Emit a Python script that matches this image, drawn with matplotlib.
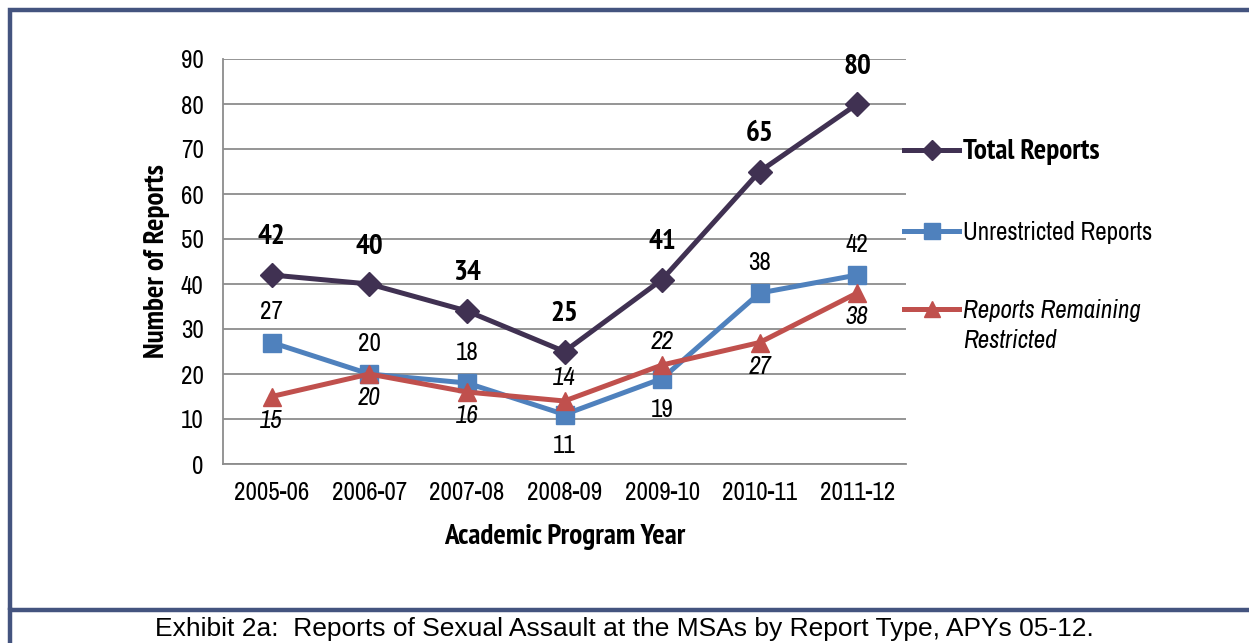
import matplotlib
matplotlib.use('Agg')
import matplotlib.pyplot as plt
from matplotlib.lines import Line2D
from matplotlib.patches import Rectangle

years = ['2005-06', '2006-07', '2007-08', '2008-09', '2009-10', '2010-11', '2011-12']
total = [42, 40, 34, 25, 41, 65, 80]
unrestricted = [27, 20, 18, 11, 19, 38, 42]
restricted = [15, 20, 16, 14, 22, 27, 38]

# label placement: +1 above the point, -1 below
unres_pos = [1, 1, 1, -1, -1, 1, 1]
restr_pos = [-1, -1, -1, 1, 1, -1, -1]

C_TOTAL = '#403152'
C_UNRES = '#4F81BD'
C_RESTR = '#C0504D'
C_FRAME = '#44547F'

plt.rcParams['font.family'] = ['Archivo Narrow', 'DejaVu Sans']
BOLD = ['PT Sans Narrow', 'DejaVu Sans']

W, H = 1249, 643
fig = plt.figure(figsize=(W / 100, H / 100), dpi=100)

# axes box in pixels: left 223, right 906, top 59, bottom 464
ax = fig.add_axes([223 / W, 1 - 464 / H, (906 - 223) / W, (464 - 59) / H])
x = list(range(len(years)))

ax.plot(x, total, color=C_TOTAL, lw=3.6, marker='D', ms=12, mec=C_TOTAL, zorder=5)
ax.plot(x, unrestricted, color=C_UNRES, lw=3.6, marker='s', ms=13, mec=C_UNRES, zorder=4)
ax.plot(x, restricted, color=C_RESTR, lw=3.6, marker='^', ms=13, mec=C_RESTR, zorder=6)

ax.set_xlim(-0.5, len(years) - 0.5)
ax.set_ylim(0, 90)
ax.set_yticks(range(0, 91, 10))
ax.set_xticks(x)
ax.set_xticklabels(years)
ax.tick_params(length=0, labelsize=18, pad=12)
ax.tick_params(axis='y', pad=14)
ax.grid(axis='y', color='#8c8c8c', lw=1.3)
ax.set_axisbelow(True)
for s in ['top', 'right']:
    ax.spines[s].set_visible(False)
for s in ['left', 'bottom']:
    ax.spines[s].set_color('#8c8c8c')
    ax.spines[s].set_linewidth(1.3)

ax.set_ylabel('Number of Reports', fontsize=21, fontweight='bold', family=BOLD, labelpad=8)
ax.set_xlabel('Academic Program Year', fontsize=21, fontweight='bold', family=BOLD, labelpad=15)

for xi, v in zip(x, total):
    ax.annotate(str(v), (xi, v), xytext=(0, 27), textcoords='offset points',
                ha='center', va='center', fontsize=21, fontweight='bold', family=BOLD)
for xi, v, p in zip(x, unrestricted, unres_pos):
    ax.annotate(str(v), (xi, v), xytext=(0, 22 * p), textcoords='offset points',
                ha='center', va='center', fontsize=18)
for xi, v, p in zip(x, restricted, restr_pos):
    ax.annotate(str(v), (xi, v), xytext=(0, 17 * p), textcoords='offset points',
                ha='center', va='center', fontsize=18, style='italic')

handles = [
    Line2D([], [], color=C_TOTAL, lw=3.6, marker='D', ms=10),
    Line2D([], [], color=C_UNRES, lw=3.6, marker='s', ms=11),
    Line2D([], [], color=C_RESTR, lw=3.6, marker='^', ms=11),
]
leg = fig.legend(handles, ['Total Reports', 'Unrestricted Reports', 'Reports Remaining'],
                 loc='upper left', bbox_to_anchor=(904 / W, 1 - 139 / H), frameon=False,
                 borderpad=0, borderaxespad=0,
                 fontsize=18, handlelength=2.2, handletextpad=0.15, labelspacing=2.22)
texts = leg.get_texts()
texts[0].set_fontweight('bold')
texts[0].set_family(BOLD)
texts[0].set_fontsize(21)
texts[2].set_style('italic')

# second line of the last legend label, placed under the first
fig.canvas.draw()
bb = texts[2].get_window_extent()
fig.text(bb.x0 / W, (bb.y0 - 30) / H, 'Restricted', ha='left', va='bottom',
         fontsize=18, style='italic')

# frame and caption
fig.add_artist(Rectangle((9.5 / W, 1 - 610 / H), 1.2, (610 - 9.5) / H, transform=fig.transFigure,
                         fill=False, ec=C_FRAME, lw=3.2))
fig.add_artist(Line2D([9.5 / W, 9.5 / W], [0, 1 - 610 / H], transform=fig.transFigure,
                      color=C_FRAME, lw=3.2))
fig.text(624 / W, 1 - 629 / H, 'Exhibit 2a:  Reports of Sexual Assault at the MSAs by Report Type, APYs 05-12.',
         ha='center', va='center', fontsize=19, family=['Liberation Sans', 'DejaVu Sans'])

fig.savefig('out.png', dpi=100)
